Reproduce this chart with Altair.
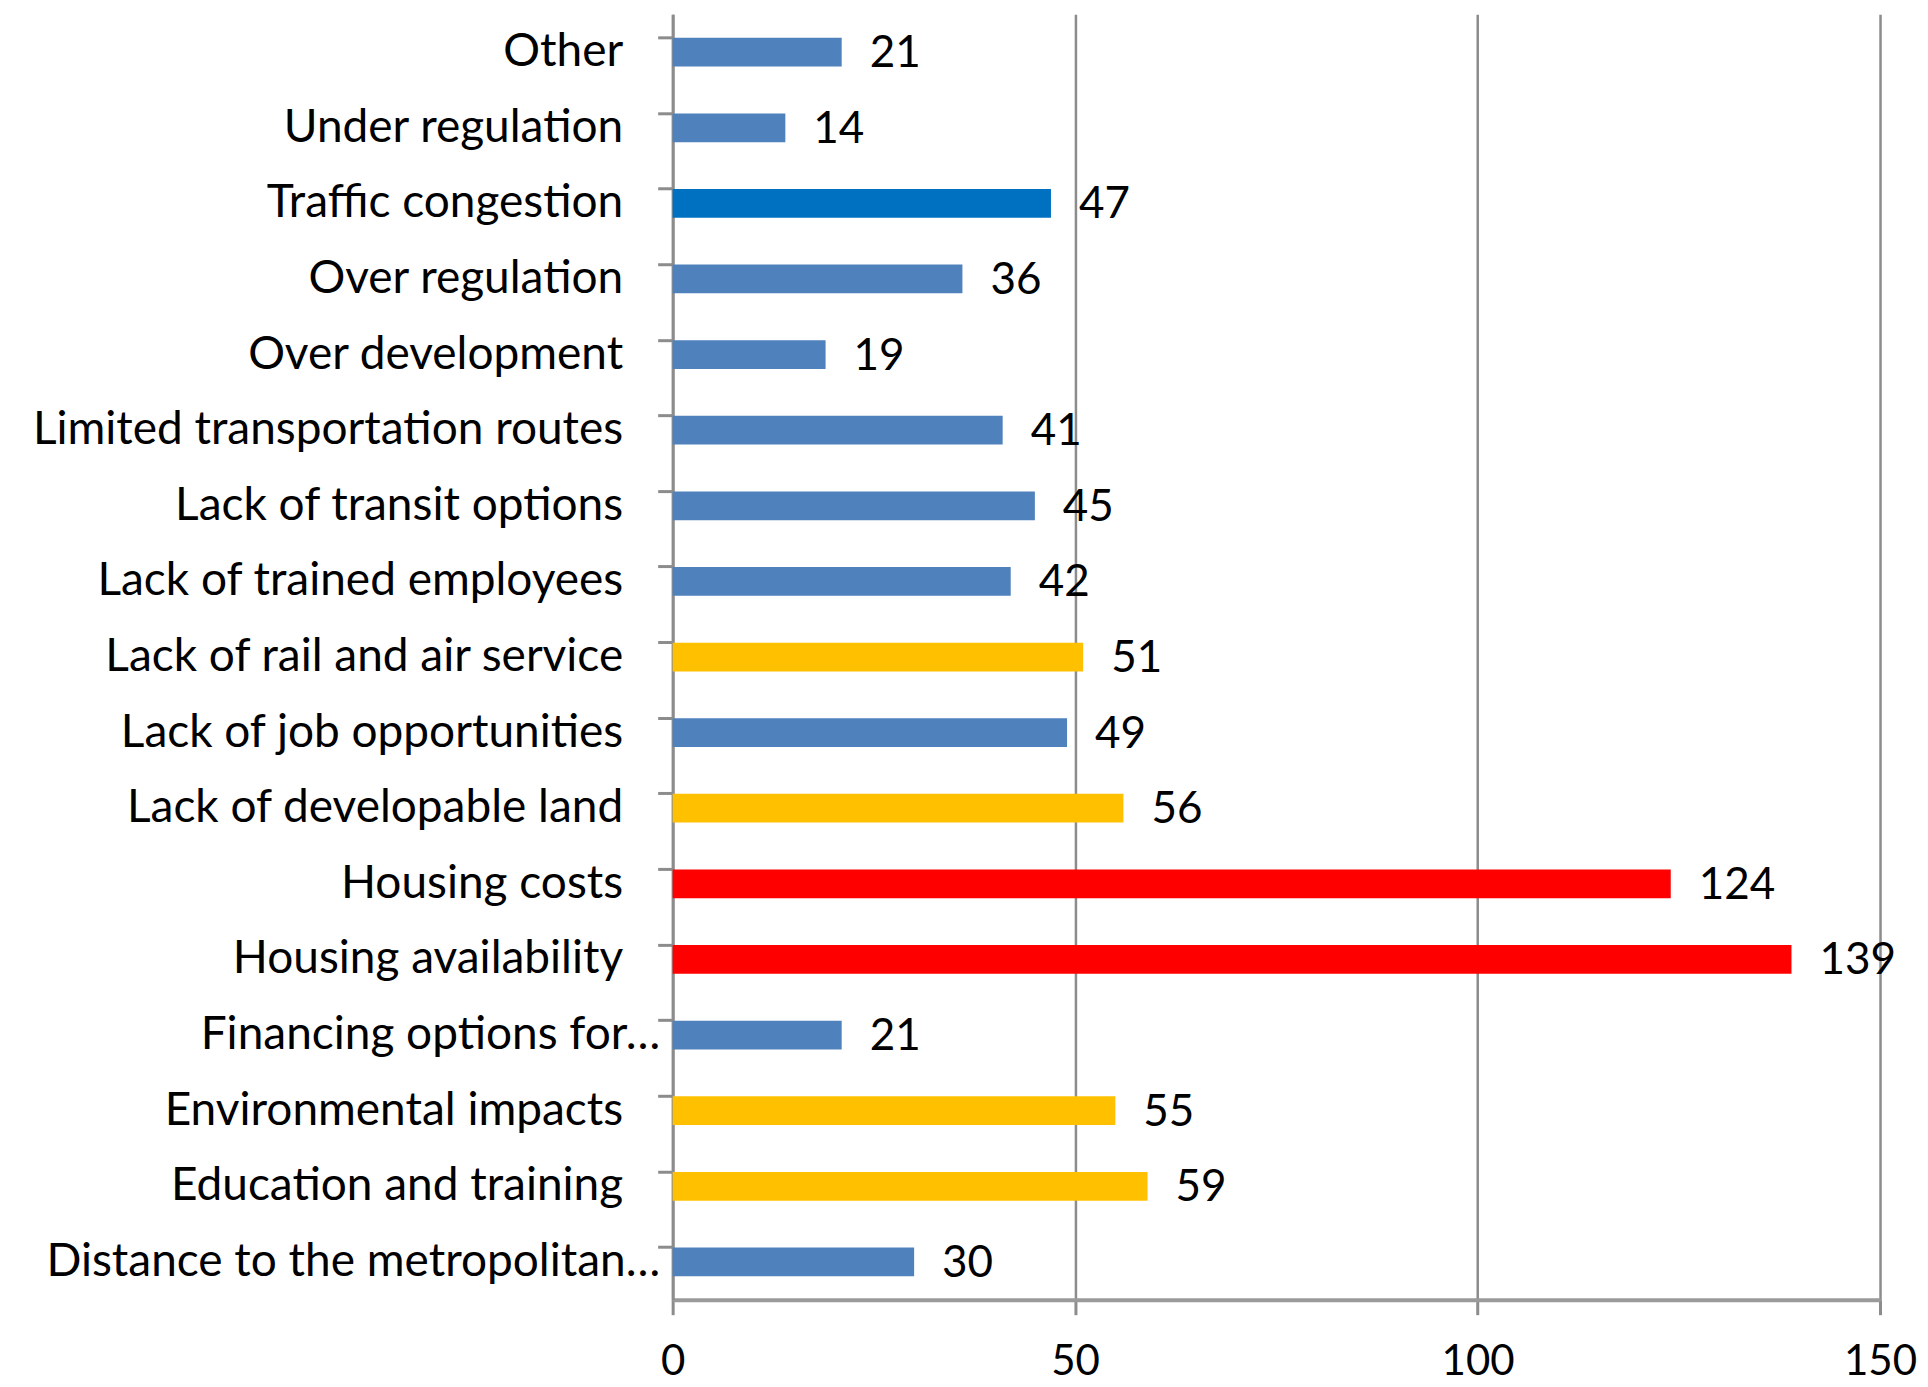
import altair as alt
import pandas as pd

categories = ["Other", "Under regulation", "Traffic congestion", "Over regulation",
              "Over development", "Limited transportation routes", "Lack of transit options",
              "Lack of trained employees", "Lack of rail and air service",
              "Lack of job opportunities", "Lack of developable land", "Housing costs",
              "Housing availability", "Financing options for…", "Environmental impacts",
              "Education and training", "Distance to the metropolitan…"]
values = [21, 14, 47, 36, 19, 41, 45, 42, 51, 49, 56, 124, 139, 21, 55, 59, 30]
groups = ["blue", "blue", "dark", "blue", "blue", "blue", "blue", "blue", "yellow",
          "blue", "yellow", "red", "red", "blue", "yellow", "yellow", "blue"]
x_ticks = [0, 50, 100, 150]

group_domain = ["blue", "dark", "yellow", "red"]
group_colors = ["#4F81BD", "#0070C0", "#FFC000", "#FF0000"]

df = pd.DataFrame({"cat": categories, "val": values, "grp": groups})

FONT = "Lato"

y_enc = alt.Y("cat:N", sort=categories, title=None,
              scale=alt.Scale(paddingInner=0.62, paddingOuter=0.31),
              axis=alt.Axis(bandPosition=0, tickSize=15, tickWidth=3,
                            tickColor="#8c8c8c", domainColor="#8c8c8c", domainWidth=3,
                            labelFont=FONT, labelFontSize=46, labelColor="#000000",
                            labelPadding={"condition": {"test": "indexof(datum.value, '…') >= 0", "value": -2}, "value": 35},
                            labelLimit=700, grid=False))

x_enc = alt.X("val:Q", title=None,
              scale=alt.Scale(domain=[0, 150], nice=False),
              axis=alt.Axis(values=x_ticks, grid=True, gridColor="#8c8c8c", gridWidth=2.5,
                            domainColor="#9a9a9a", domainWidth=4, tickColor="#8c8c8c",
                            tickSize=15, tickWidth=3, labelFont=FONT, labelFontSize=42,
                            labelColor="#000000", labelPadding=27, labelFlush=False))

bars = alt.Chart(df).mark_bar().encode(
    y=y_enc, x=x_enc,
    color=alt.Color("grp:N", scale=alt.Scale(domain=group_domain, range=group_colors), legend=None),
)

texts = alt.Chart(df).mark_text(align="left", baseline="middle", dx=28, dy=2, font=FONT,
                                fontSize=44, color="#000000").encode(
    y=alt.Y("cat:N", sort=categories),
    x=alt.X("val:Q"),
    text=alt.Text("val:Q"),
)

chart = alt.layer(bars, texts).properties(
    width=1208, height=1286,
    background="white",
    autosize=alt.AutoSizeParams(type="none"),
    padding={"left": 665, "top": 6, "right": 40, "bottom": 85},
).configure_view(stroke=None)

chart.save("out.html", embed_options={"renderer": "svg", "actions": False})
